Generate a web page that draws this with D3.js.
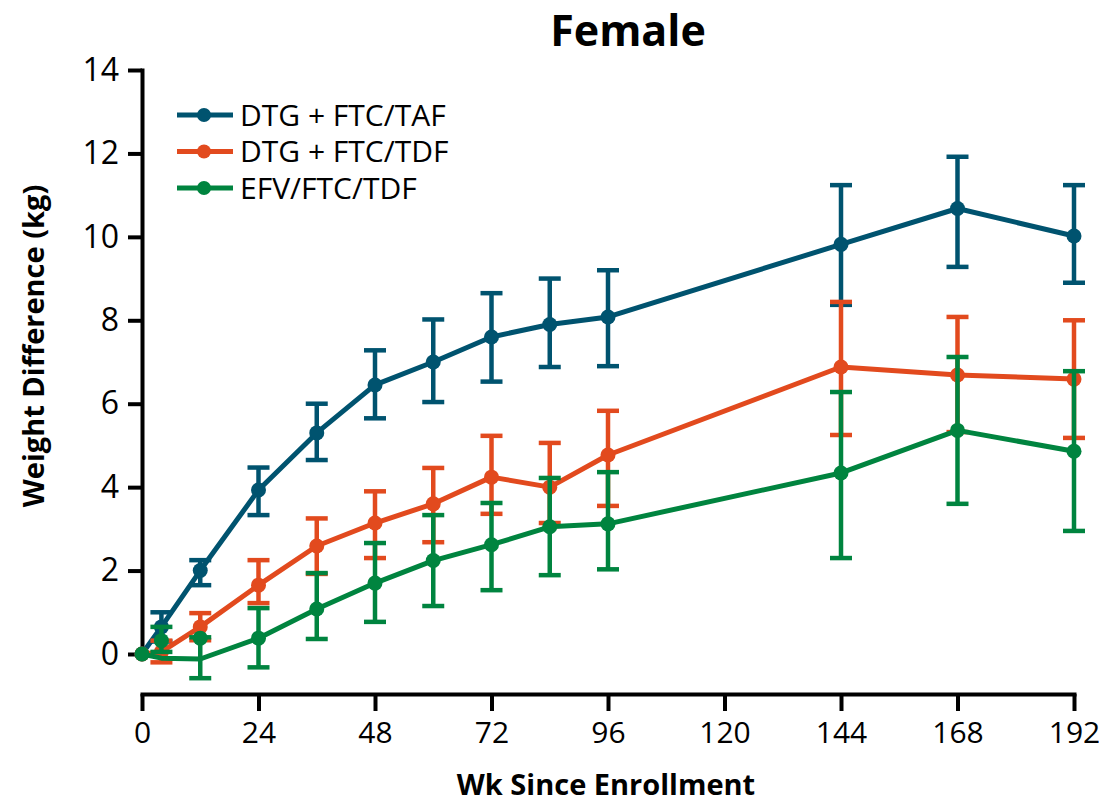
<!DOCTYPE html>
<html>
<head>
<meta charset="utf-8">
<script src="https://d3js.org/d3.v7.min.js"></script>
<style>
body { margin: 0; background: #fff; }
text { font-family: "Open Sans", sans-serif; }
</style>
</head>
<body>
<svg id="chart" width="1099" height="805"></svg>
<script>

var weeks = [0, 4, 12, 24, 36, 48, 60, 72, 84, 96, 144, 168, 192];
var xTicks = [0, 24, 48, 72, 96, 120, 144, 168, 192];
var yTicks = [0, 2, 4, 6, 8, 10, 12, 14];

var seriesNames = ["DTG + FTC/TAF", "DTG + FTC/TDF", "EFV/FTC/TDF"];

var tafMean = [0, 0.65, 2.0, 3.93, 5.3, 6.45, 7.0, 7.6, 7.9, 8.08, 9.82, 10.68, 10.02];
var tafLow  = [0, 0.3, 1.65, 3.33, 4.65, 5.65, 6.04, 6.53, 6.88, 6.9, 8.37, 9.28, 8.9];
var tafHigh = [0, 1.0, 2.25, 4.47, 6.0, 7.28, 8.02, 8.65, 9.0, 9.2, 11.24, 11.92, 11.24];

var tdfMean = [0, 0.05, 0.65, 1.65, 2.59, 3.14, 3.6, 4.24, 4.0, 4.77, 6.88, 6.69, 6.59];
var tdfLow  = [0, -0.2, 0.33, 1.22, 1.92, 2.3, 2.68, 3.36, 3.14, 3.55, 5.25, 5.32, 5.18];
var tdfHigh = [0, 0.32, 0.98, 2.25, 3.25, 3.9, 4.46, 5.23, 5.06, 5.83, 8.44, 8.08, 8.0];

// efv line and its dots do not meet at wk 4 and 12 in the source figure
var efvMean = [0, -0.1, -0.12, 0.38, 1.08, 1.7, 2.24, 2.62, 3.05, 3.12, 4.34, 5.36, 4.86];
var efvDot  = [0, 0.32, 0.38, 0.38, 1.08, 1.7, 2.24, 2.62, 3.05, 3.12, 4.34, 5.36, 4.86];
var efvLow  = [0, 0.05, -0.58, -0.32, 0.36, 0.77, 1.15, 1.53, 1.89, 2.03, 2.3, 3.6, 2.95];
var efvHigh = [0, 0.65, 0.4, 1.1, 1.94, 2.66, 3.33, 3.62, 4.22, 4.36, 6.28, 7.12, 6.78];

var colors = ["#00536f", "#e24a1e", "#00843f"];

var svg = d3.select("#chart");

var xScale = d3.scaleLinear().domain([0, 192]).range([142, 1074]);
var yScale = d3.scaleLinear().domain([0, 14]).range([654, 70]);

var series = [
	{ name: seriesNames[0], mean: tafMean, dot: tafMean, low: tafLow, high: tafHigh, color: colors[0] },
	{ name: seriesNames[1], mean: tdfMean, dot: tdfMean, low: tdfLow, high: tdfHigh, color: colors[1] },
	{ name: seriesNames[2], mean: efvMean, dot: efvDot, low: efvLow, high: efvHigh, color: colors[2] }
];

// axes
var yAxis = svg.append("g")
	.attr("transform", "translate(142,0)")
	.call(d3.axisLeft(yScale).tickValues(yTicks).tickSize(14).tickSizeOuter(0).tickPadding(9));

var xAxis = svg.append("g")
	.attr("transform", "translate(0,694)")
	.call(d3.axisBottom(xScale).tickValues(xTicks).tickSize(17).tickSizeOuter(0).tickPadding(11));

[yAxis, xAxis].forEach(function(a) {
	a.select(".domain").attr("stroke", "#000").attr("stroke-width", 4).attr("stroke-linecap", "square");
	a.selectAll(".tick line").attr("stroke", "#000").attr("stroke-width", 4);
	a.selectAll(".tick text")
		.style("font-family", "'Open Sans', sans-serif")
		.style("font-size", "32px")
		.attr("fill", "#000");
});
xAxis.selectAll(".tick text").style("font-size", "30px");

var line = d3.line()
	.x(function(d) { return xScale(d.w); })
	.y(function(d) { return yScale(d.v); });

series.forEach(function(s) {
	var pts = weeks.map(function(w, i) {
		return { w: w, v: s.mean[i], dot: s.dot[i], lo: s.low[i], hi: s.high[i] };
	});
	var g = svg.append("g");

	g.append("path")
		.datum(pts)
		.attr("d", line)
		.attr("fill", "none")
		.attr("stroke", s.color)
		.attr("stroke-width", 5)
		.attr("stroke-linejoin", "round");

	var bars = pts.filter(function(p) { return p.hi > p.lo; });

	g.selectAll(".err")
		.data(bars)
	.enter().append("line")
		.attr("x1", function(d) { return xScale(d.w); })
		.attr("x2", function(d) { return xScale(d.w); })
		.attr("y1", function(d) { return yScale(d.lo); })
		.attr("y2", function(d) { return yScale(d.hi); })
		.attr("stroke", s.color)
		.attr("stroke-width", 4.5);

	["lo", "hi"].forEach(function(k) {
		g.selectAll(".cap-" + k)
			.data(bars)
		.enter().append("line")
			.attr("x1", function(d) { return xScale(d.w) - 11; })
			.attr("x2", function(d) { return xScale(d.w) + 11; })
			.attr("y1", function(d) { return yScale(d[k]); })
			.attr("y2", function(d) { return yScale(d[k]); })
			.attr("stroke", s.color)
			.attr("stroke-width", 4.5);
	});

	g.selectAll(".dot")
		.data(pts)
	.enter().append("circle")
		.attr("cx", function(d) { return xScale(d.w); })
		.attr("cy", function(d) { return yScale(d.dot); })
		.attr("r", 7.5)
		.attr("fill", s.color);
});

// legend
var legend = svg.append("g");
series.forEach(function(s, i) {
	var ly = 115 + i * 36.5;
	legend.append("line")
		.attr("x1", 177).attr("x2", 233)
		.attr("y1", ly).attr("y2", ly)
		.attr("stroke", s.color)
		.attr("stroke-width", 5);
	legend.append("circle")
		.attr("cx", 204).attr("cy", ly)
		.attr("r", 7)
		.attr("fill", s.color);
	legend.append("text")
		.attr("x", 240).attr("y", ly)
		.attr("dy", "0.36em")
		.style("font-size", "30px")
		.text(s.name);
});

// titles
svg.append("text")
	.attr("x", 628).attr("y", 46)
	.attr("text-anchor", "middle")
	.style("font-size", "43px")
	.style("font-weight", "bold")
	.text("Female");

svg.append("text")
	.attr("transform", "translate(44,346) rotate(-90)")
	.attr("text-anchor", "middle")
	.style("font-size", "29px")
	.style("font-weight", "bold")
	.text("Weight Difference (kg)");

svg.append("text")
	.attr("x", 606).attr("y", 795)
	.attr("text-anchor", "middle")
	.style("font-size", "29px")
	.style("font-weight", "bold")
	.text("Wk Since Enrollment");

</script>
</body>
</html>
